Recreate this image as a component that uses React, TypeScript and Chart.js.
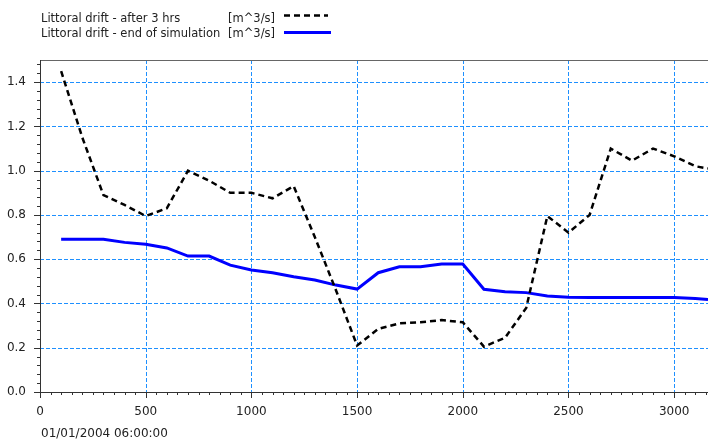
import React, { useEffect, useRef } from "react";
import { Chart, registerables } from "chart.js";

Chart.register(...registerables);

const positions = [100, 200, 300, 400, 500, 600, 700, 800, 900, 1000, 1100, 1200, 1300, 1400, 1500, 1600, 1700, 1800, 1900, 2000, 2100, 2200, 2300, 2400, 2500, 2600, 2700, 2800, 2900, 3000, 3100, 3160];
const afterThreeHrs = [1.45, 1.15, 0.89, 0.845, 0.795, 0.83, 1.0, 0.955, 0.9, 0.9, 0.875, 0.93, 0.7, 0.46, 0.21, 0.285, 0.31, 0.315, 0.325, 0.315, 0.205, 0.245, 0.38, 0.795, 0.72, 0.8, 1.1, 1.045, 1.1, 1.065, 1.02, 1.01];
const endOfSimulation = [0.69, 0.69, 0.69, 0.676, 0.668, 0.651, 0.614, 0.614, 0.573, 0.551, 0.539, 0.521, 0.506, 0.483, 0.465, 0.539, 0.566, 0.566, 0.578, 0.578, 0.464, 0.453, 0.449, 0.434, 0.428, 0.427, 0.427, 0.427, 0.427, 0.427, 0.422, 0.418];
const seriesNames = ["Littoral drift - after 3 hrs", "Littoral drift - end of simulation"];
const unitLabel = "[m^3/s]";
const dateLabel = "01/01/2004 06:00:00";
const xTickLabels = ["0", "500", "1000", "1500", "2000", "2500", "3000"];
const yTickLabels = ["0.0", "0.2", "0.4", "0.6", "0.8", "1.0", "1.2", "1.4"];
const xMax = 3160;
const yMax = 1.5;
const xMajor = 500;
const xMinor = 50;
const yMajor = 0.2;
const yMinor = 0.04;

const FONT = '"DejaVu Sans", sans-serif';
const GRID = "#1e90ff";

const isMultiple = (v: number, step: number) => Math.abs(v / step - Math.round(v / step)) < 1e-6;

const drawPlugin = {
  id: "custom-axes",
  beforeDatasetsDraw(chart: any) {
    const { ctx, chartArea, scales } = chart;
    const { left, top, right, bottom } = chartArea;
    const x = scales.x;
    const y = scales.y;
    ctx.save();
    ctx.strokeStyle = GRID;
    ctx.lineWidth = 1;
    ctx.setLineDash([4, 2]);
    for (let v = xMajor; v <= xMax; v += xMajor) {
      const px = Math.round(x.getPixelForValue(v)) + 0.5;
      ctx.beginPath();
      ctx.moveTo(px, top);
      ctx.lineTo(px, bottom);
      ctx.stroke();
    }
    for (let i = 1; i * yMajor < yMax; i++) {
      const py = Math.round(y.getPixelForValue(i * yMajor)) + 0.5;
      ctx.beginPath();
      ctx.moveTo(left, py);
      ctx.lineTo(right, py);
      ctx.stroke();
    }
    ctx.restore();
  },
  afterDraw(chart: any) {
    const { ctx, chartArea, scales } = chart;
    const { left, top, right, bottom } = chartArea;
    const x = scales.x;
    const y = scales.y;
    ctx.save();
    ctx.setLineDash([]);
    ctx.strokeStyle = "#666";
    ctx.lineWidth = 1;
    ctx.beginPath();
    ctx.moveTo(left, top + 0.5);
    ctx.lineTo(right, top + 0.5);
    ctx.stroke();
    ctx.strokeStyle = "#333";
    ctx.beginPath();
    ctx.moveTo(left + 0.5, top);
    ctx.lineTo(left + 0.5, bottom + 0.5);
    ctx.lineTo(right, bottom + 0.5);
    ctx.stroke();
    ctx.beginPath();
    for (let i = 0; i * xMinor <= xMax; i++) {
      const v = i * xMinor;
      const px = Math.round(x.getPixelForValue(v)) + 0.5;
      const len = isMultiple(v, xMajor) ? 6 : 3;
      ctx.moveTo(px, bottom);
      ctx.lineTo(px, bottom + len);
    }
    for (let i = 0; i * yMinor <= yMax + 1e-9; i++) {
      const v = i * yMinor;
      const py = Math.round(y.getPixelForValue(v)) + 0.5;
      const len = isMultiple(v, yMajor) ? 6 : 3;
      ctx.moveTo(left, py);
      ctx.lineTo(left - len, py);
    }
    ctx.stroke();

    ctx.fillStyle = "#222";
    ctx.font = "12px " + FONT;
    ctx.textBaseline = "middle";
    ctx.textAlign = "center";
    xTickLabels.forEach((lbl) => {
      ctx.fillText(lbl, x.getPixelForValue(Number(lbl)), bottom + 20);
    });
    ctx.textAlign = "right";
    yTickLabels.forEach((lbl) => {
      ctx.fillText(lbl, left - 14, y.getPixelForValue(Number(lbl)));
    });
    ctx.textAlign = "left";
    ctx.fillText(dateLabel, left + 1, bottom + 42);

    ctx.font = "11.5px " + FONT;
    ctx.textBaseline = "alphabetic";
    ctx.fillText(seriesNames[0], 41, 21.5);
    ctx.fillText(unitLabel, 228, 21.5);
    ctx.fillText(seriesNames[1], 41, 36.5);
    ctx.fillText(unitLabel, 228, 36.5);
    ctx.strokeStyle = "#000";
    ctx.lineWidth = 2.5;
    ctx.setLineDash([6, 4]);
    ctx.beginPath();
    ctx.moveTo(284, 15.5);
    ctx.lineTo(328, 15.5);
    ctx.stroke();
    ctx.setLineDash([]);
    ctx.strokeStyle = "#0000ff";
    ctx.lineWidth = 3;
    ctx.beginPath();
    ctx.moveTo(284, 32.5);
    ctx.lineTo(331, 32.5);
    ctx.stroke();
    ctx.restore();
  },
};

export default function App() {
  const ref = useRef<HTMLCanvasElement | null>(null);
  useEffect(() => {
    if (!ref.current) return;
    const chart = new Chart(ref.current, {
      type: "line",
      data: {
        datasets: [
          {
            label: seriesNames[0],
            data: positions.map((p, i) => ({ x: p, y: afterThreeHrs[i] })),
            borderColor: "#000000",
            borderWidth: 2.5,
            borderDash: [6, 4],
            pointRadius: 0,
            fill: false,
            tension: 0,
          },
          {
            label: seriesNames[1],
            data: positions.map((p, i) => ({ x: p, y: endOfSimulation[i] })),
            borderColor: "#0000ff",
            borderWidth: 3,
            pointRadius: 0,
            fill: false,
            tension: 0,
          },
        ],
      },
      options: {
        animation: false,
        responsive: false,
        maintainAspectRatio: false,
        events: [],
        layout: { padding: { top: 60, right: 0, left: 0, bottom: 0 } },
        plugins: { legend: { display: false }, tooltip: { enabled: false }, title: { display: false } },
        scales: {
          x: {
            type: "linear",
            min: 0,
            max: xMax,
            ticks: { display: false, stepSize: xMajor },
            grid: { display: false },
            border: { display: false },
            afterFit: (s: any) => { s.height = 51; },
          },
          y: {
            type: "linear",
            min: 0,
            max: yMax,
            ticks: { display: false, stepSize: yMajor },
            grid: { display: false },
            border: { display: false },
            afterFit: (s: any) => { s.width = 40; },
          },
        },
      },
      plugins: [drawPlugin],
    });
    return () => chart.destroy();
  }, []);
  return (
    <div style={{ position: "absolute", left: 0, top: 0, width: 708, height: 443, background: "#fff" }}>
      <canvas ref={ref} width={708} height={443} style={{ width: 708, height: 443 }} />
    </div>
  );
}
